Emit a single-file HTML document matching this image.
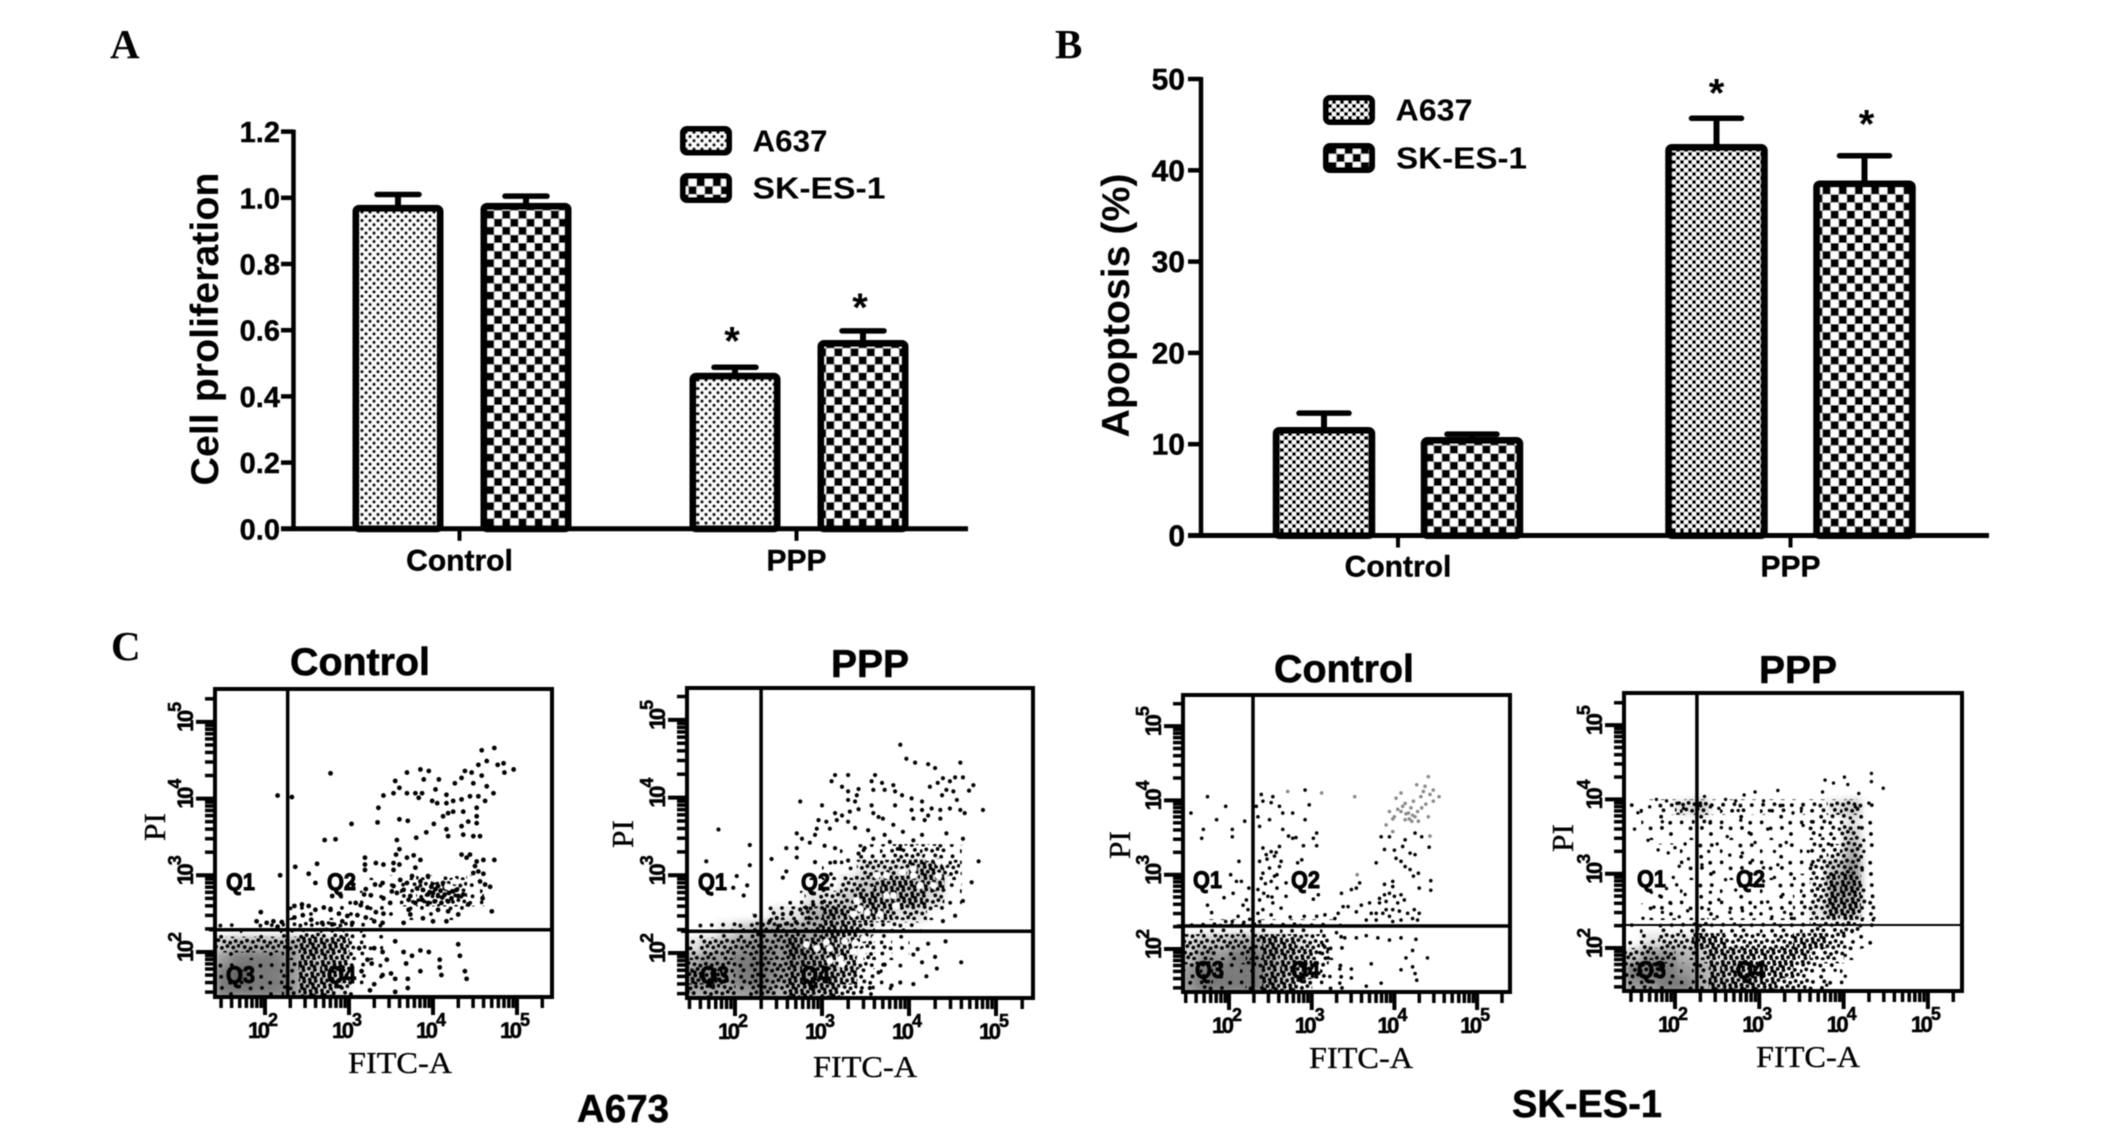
<!DOCTYPE html>
<html lang="en">
<head>
<meta charset="utf-8">
<title>Cell proliferation and apoptosis figure</title>
<style>
html,body{margin:0;padding:0;background:#fff;width:2126px;height:1141px;overflow:hidden}
svg{display:block}
text{font-family:"Liberation Sans",Arial,sans-serif;fill:#000}
.serif{font-family:"Liberation Serif","Times New Roman",serif;stroke:#000;stroke-width:.35px}
.panel{font-family:"Liberation Serif","Times New Roman",serif;font-weight:bold;font-size:41px}
.flowtitle{font-weight:bold;font-size:39px;stroke:#000;stroke-width:.6px}
.legend{font-size:31px;font-weight:bold}
.group{font-weight:bold;font-size:39px;stroke:#000;stroke-width:.5px}
</style>
</head>
<body>
<svg id="figure" xmlns="http://www.w3.org/2000/svg" width="2126" height="1141" viewBox="0 0 2126 1141">
<defs id="defs">
<filter id="soft" x="-2%" y="-2%" width="104%" height="104%"><feGaussianBlur stdDeviation="0.55"/></filter>
<filter id="heatblur" x="-10%" y="-10%" width="120%" height="120%"><feGaussianBlur stdDeviation="4"/></filter>
<pattern id="dots" patternUnits="userSpaceOnUse" width="8" height="8.4">
<rect width="8" height="8.4" fill="#fff"/>
<circle cx="2" cy="2.1" r="1.75" fill="#000"/>
<circle cx="6" cy="6.3" r="1.75" fill="#000"/>
</pattern>
<pattern id="checkLarge" patternUnits="userSpaceOnUse" width="16.2" height="16.2">
<rect width="16.2" height="16.2" fill="#fff"/>
<rect width="8.1" height="8.1" fill="#000"/>
<rect x="8.1" y="8.1" width="8.1" height="8.1" fill="#000"/>
</pattern>
<pattern id="checkFine" patternUnits="userSpaceOnUse" width="8" height="8">
<rect width="8" height="8" fill="#fff"/>
<rect width="4" height="4" fill="#000"/>
<rect x="4" y="4" width="4" height="4" fill="#000"/>
</pattern>
</defs>
<rect width="2126" height="1141" fill="#fff"/>
<g id="root" filter="url(#soft)">
<text class="panel" x="110" y="58">A</text>
<text class="panel" x="1055" y="58">B</text>
<text class="panel" x="111" y="660">C</text>

<g id="chartA">
<text x="0" y="0" transform="translate(218,485.500) rotate(-90)" font-size="39" font-weight="bold" textLength="313" lengthAdjust="spacingAndGlyphs">Cell proliferation</text>
<g>
<rect x="683" y="129" width="46" height="23.500" rx="4" fill="url(#dots)" stroke="#000" stroke-width="6"/>
<text class="legend" x="752.500" y="151.500" textLength="75" lengthAdjust="spacingAndGlyphs">A637</text>
<rect x="683" y="176" width="46" height="24" rx="4" fill="url(#checkLarge)" stroke="#000" stroke-width="6"/>
<text class="legend" x="752.500" y="198.500" textLength="133" lengthAdjust="spacingAndGlyphs">SK-ES-1</text>
</g>
</g>

<g id="chartB">
<text x="0" y="0" transform="translate(1129,437.500) rotate(-90)" font-size="39" font-weight="bold" textLength="264" lengthAdjust="spacingAndGlyphs">Apoptosis (%)</text>
<g>
<rect x="1326" y="98" width="46" height="24" rx="4" fill="url(#checkFine)" stroke="#000" stroke-width="6"/>
<text class="legend" x="1395.500" y="120.500" textLength="77" lengthAdjust="spacingAndGlyphs">A637</text>
<rect x="1326" y="146" width="46" height="24" rx="4" fill="url(#checkLarge)" stroke="#000" stroke-width="6"/>
<text class="legend" x="1396" y="168.500" textLength="131" lengthAdjust="spacingAndGlyphs">SK-ES-1</text>
</g>
</g>

<text class="flowtitle" x="290" y="675" textLength="140" lengthAdjust="spacingAndGlyphs">Control</text>
<text class="flowtitle" x="831" y="677" textLength="78" lengthAdjust="spacingAndGlyphs">PPP</text>
<text class="flowtitle" x="1274" y="682" textLength="140" lengthAdjust="spacingAndGlyphs">Control</text>
<text class="flowtitle" x="1759" y="683" textLength="78" lengthAdjust="spacingAndGlyphs">PPP</text>

<g id="flow1"></g>
<g id="flow2"></g>
<g id="flow3"></g>
<g id="flow4"></g>

<text class="group" x="577" y="1122" textLength="92" lengthAdjust="spacingAndGlyphs">A673</text>
<text class="group" x="1512" y="1117" textLength="150" lengthAdjust="spacingAndGlyphs">SK-ES-1</text>
</g>
</svg>

<script>
/* ---------- bar chart data ---------- */
const barCategories = ['Control', 'PPP'];
const prolifTicks = [0, 0.2, 0.4, 0.6, 0.8, 1.0, 1.2];
const prolifTickLabels = ['0.0', '0.2', '0.4', '0.6', '0.8', '1.0', '1.2'];
const prolifA637 = [0.968, 0.461];
const prolifA637Err = [0.042, 0.027];
const prolifA637Sig = [false, true];
const prolifSK = [0.974, 0.56];
const prolifSKErr = [0.031, 0.038];
const prolifSKSig = [false, true];
const apopTicks = [0, 10, 20, 30, 40, 50];
const apopTickLabels = ['0', '10', '20', '30', '40', '50'];
const apopA637 = [11.5, 42.5];
const apopA637Err = [1.9, 3.2];
const apopA637Sig = [false, true];
const apopSK = [10.4, 38.5];
const apopSKErr = [0.7, 3.1];
const apopSKSig = [false, true];

/* ---------- flow cytometry axis data ---------- */
const flowDecades = [2, 3, 4, 5];
const flowMinorDecades = [1, 2, 3, 4, 5];
const flowMinorMultipliers = [2, 3, 4, 5, 6, 7, 8, 9];
const quadrantLabels = ['Q1', 'Q2', 'Q3', 'Q4'];

/* events are [log10 FITC-A, log10 PI]; density grids start at 1.4 decades, 0.2 decades per cell, rows listed from the lowest PI upward */
const a673ControlGate = [2.27, 2.29];
const a673ControlGray = [
 [5,5,5,5,4,2,1,1,0,0],
 [5,6,5,5,4,2,2,1,0,0],
 [4,5,5,5,4,2,2,1,0,0],
 [2,3,3,3,3,2,2,1,0,0],
 [0,0,0,0,0,0,0,0,0,0]
];
const a673ControlSpeck = [
 [2,2,2,2,4,8,7,5,2,0],
 [2,2,2,2,4,9,9,8,3,1],
 [2,2,2,2,4,9,9,8,4,1],
 [6,6,6,6,6,8,9,7,4,1],
 [1,2,2,2,3,5,6,5,3,1],
 [0,0,0,0,1,2,2,2,2,2,2,2,2,2,1],
 [0,0,0,0,0,0,0,1,1,1,2,3,5,5,5,3],
 [0,0,0,0,0,0,0,0,0,1,1,3,5,6,6,1]
];
const a673ControlEvents = [
[4.58,4.63],[4.73,4.66],[4.96,4.38],[4.84,4.46],[4.85,4.34],[4.77,4.44],[4.64,4.49],[4.54,4.44],[4.58,4.30],[4.46,4.34],[4.38,4.36],[4.34,4.27],[4.26,4.20],[4.48,4.20],[4.64,4.16],[4.72,4.07],[4.54,4.03],[4.62,3.97],[4.44,4.03],[4.34,3.99],[4.24,3.97],[4.16,4.05],[4.16,3.94],[4.52,3.88],[4.24,3.83],[4.36,3.83],[4.18,3.81],[4.12,3.77],[4.52,3.77],[4.42,3.70],[4.52,3.68],[4.34,3.64],[4.16,3.60],[4.36,3.53],[4.48,3.51],[4.56,3.51],[4.18,3.51],[4.01,3.67],[3.92,3.56],[3.80,3.49],[4.07,4.25],[3.95,4.36],[3.85,4.38],[3.69,4.34],[3.89,4.25],[3.55,4.23],[3.60,4.14],[3.53,4.07],[3.41,4.04],[3.69,4.07],[3.79,4.07],[3.87,4.07],[3.83,4.01],[4.03,4.12],[3.99,3.97],[4.05,3.94],[3.35,3.88],[3.34,3.69],[3.60,3.73],[3.70,3.71],[3.03,3.67],[2.78,4.33],[2.71,3.46],[2.84,3.47],[3.57,3.46],[3.60,3.34],[3.56,3.27],[3.69,3.23],[3.77,3.26],[3.19,3.23],[3.19,3.14],[3.19,3.07],[3.32,3.16],[3.41,3.14],[3.53,3.16],[3.53,3.07],[3.60,3.14],[3.79,3.10],[3.85,3.20],[4.34,3.27],[4.40,3.23],[4.44,3.27],[4.52,3.18],[4.60,3.20],[4.73,3.20],[4.50,3.12],[4.54,3.05],[4.60,3.02],[4.48,3.03],[4.56,2.92],[4.62,2.88],[4.68,2.85],[4.59,2.70],[4.70,2.53],
[3.53,2.86],[3.61,2.94],[3.69,2.90],[3.75,2.99],[3.85,2.92],[3.94,2.99],[4.00,2.90],[4.06,2.86],[4.12,2.90],[4.24,2.79],[4.28,2.81],[4.36,2.75],[3.51,2.79],[3.57,2.77],[3.65,2.81],[3.73,2.73],[3.81,2.83],[3.88,2.81],[3.94,2.75],[4.00,2.77],[4.06,2.73],[4.14,2.75],[4.22,2.70],[4.30,2.73],[3.41,2.70],[3.49,2.64],[3.71,2.68],[3.79,2.64],[3.87,2.68],[3.94,2.64],[4.02,2.66],[4.10,2.64],[4.18,2.66],[4.42,2.62],[4.06,2.55],[4.18,2.53],[4.30,2.49],[4.00,2.40],[4.16,2.40],[3.88,2.44],[3.73,2.49],[3.71,2.55],[3.65,2.38],[3.98,2.85],[4.03,2.82],[4.09,2.80],[4.14,2.83],[4.19,2.77],[3.96,2.78],[4.11,2.71],
[3.05,2.88],[3.20,2.82],[3.31,2.88],[3.40,2.90],[3.18,2.75],[3.26,2.74],[3.08,2.64],[3.14,2.61],[3.22,2.58],[3.32,2.52],[3.41,2.50],[2.80,2.73],[2.90,2.74],[2.70,2.58],[2.78,2.55],[2.88,2.50],[2.98,2.47],[3.10,2.48],[3.20,2.45],[3.30,2.40],[3.40,2.38],[2.35,2.60],[2.44,2.62],[2.52,2.60],[2.60,2.55],[2.35,2.45],[2.45,2.48],[2.55,2.42],[2.68,2.38],[2.80,2.36],[2.92,2.40],[3.04,2.38],[2.52,3.02],[2.36,3.11],[2.62,3.15],[2.60,2.90],[1.95,2.52],[1.90,2.40],[2.02,2.38],[2.10,2.40],[2.20,2.39],[2.15,2.33],[2.18,3.00],[2.15,4.04],[2.32,4.02],
[3.55,2.14],[3.65,2.00],[3.68,1.85],[3.75,1.95],[3.85,2.02],[3.95,2.00],[3.70,1.65],[3.85,1.75],[4.08,1.90],[4.08,1.80],[4.10,1.70],[4.30,2.10],[4.32,1.95],[4.38,1.75],[4.40,1.65],[3.30,2.05],[3.40,2.00],[3.45,1.90],[3.27,1.85],[3.40,1.70],[3.50,1.72],[3.55,1.65],[3.70,1.53],[3.25,1.50],[3.30,1.58],[3.55,1.48],[3.15,1.75],[3.22,1.90],[3.12,2.05]
];
const a673ControlWhite = [[4.17,2.85],[4.02,2.95],[4.26,2.92]];

const a673PppGate = [2.30, 2.28];
const a673PppGray = [
 [3,3,3,4,4,3,2,2,1,0,0,0,0,0,0,0,0],
 [4,4,4,5,5,4,3,3,2,1,0,0,0,0,0,0,0],
 [3,4,4,5,5,4,4,3,2,1,0,0,0,0,0,0,0],
 [1,2,3,4,4,4,4,3,2,1,0,0,0,0,0,0,0],
 [0,0,1,2,3,3,3,3,2,1,1,0,0,0,0,0,0],
 [0,0,0,0,0,1,1,3,3,2,1,1,1,1,0,0,0],
 [0,0,0,0,0,0,0,1,1,2,2,2,2,2,1,0,0],
 [0,0,0,0,0,0,0,0,0,1,2,2,2,2,2,0,0],
 [0,0,0,0,0,0,0,0,0,0,1,1,1,2,1,0,0],
 [0,0,0,0,0,0,0,0,0,0,0,0,0,0,0,0,0]
];
const a673PppSpeck = [
 [6,6,5,3,5,6,7,8,7,5,3,1,0,0,0,0,0],
 [7,7,6,3,5,6,7,9,8,7,4,2,0,0,0,0,0],
 [6,6,6,4,5,6,7,8,8,7,5,3,1,0,0,0,0],
 [3,5,6,5,6,6,7,7,8,7,5,4,2,0,0,0,0],
 [1,2,3,4,5,6,6,6,7,7,6,4,3,1,0,0,0],
 [0,0,0,0,1,3,4,6,7,7,7,7,6,5,2,0,0],
 [0,0,0,0,0,0,2,3,5,6,7,7,7,7,6,2,0],
 [0,0,0,0,0,0,0,2,3,5,6,7,7,7,7,4,0],
 [0,0,0,0,0,0,0,0,1,2,5,6,6,7,7,5,0],
 [0,0,0,0,0,0,0,0,0,1,3,4,5,5,6,3,0]
];
const a673PppEvents = [
[3.90,4.68],[3.97,4.50],[4.07,4.45],[4.22,4.43],[4.30,4.38],[4.59,4.45],[4.62,4.26],[4.53,4.26],[4.39,4.25],[4.33,4.19],[4.47,4.21],[4.74,4.16],[4.69,4.09],[4.43,4.10],[4.51,4.08],[4.55,3.97],[4.38,4.03],[4.24,4.14],[4.85,3.84],[4.64,3.80],[4.59,3.84],[4.47,3.86],[4.36,3.84],[4.26,3.86],[4.15,3.95],[4.15,3.84],[4.22,3.77],[4.03,3.84],[4.05,3.73],[4.18,3.71],[4.36,3.73],[4.43,3.54],[4.62,3.47],[4.80,3.18],[4.72,2.91],[4.62,2.67],[4.53,2.48],[4.39,2.41],
[3.15,4.29],[3.30,4.29],[3.11,4.21],[3.23,4.14],[3.30,4.08],[3.42,4.11],[3.61,4.29],[3.57,4.21],[3.69,4.19],[3.59,4.10],[3.72,4.10],[3.82,4.16],[3.84,4.08],[3.92,4.03],[4.03,3.99],[2.75,3.95],[3.00,3.90],[3.40,4.03],[3.38,3.95],[3.30,3.97],[3.42,3.85],[3.32,3.82],[3.23,3.77],[3.15,3.80],[3.57,3.90],[3.84,3.90],[3.59,3.80],[3.70,3.73],[3.65,3.75],[2.96,3.71],[3.05,3.69],[3.17,3.71],[3.30,3.69],[3.38,3.61],[3.53,3.58],[3.82,3.65],[3.93,3.56],[2.94,3.60],[3.09,3.60],[2.71,3.54],[2.77,3.47],[2.86,3.42],[2.92,3.52],[2.59,3.35],[2.71,3.35],[3.03,3.38],[3.15,3.35],[3.49,3.35],[3.59,3.47],[3.72,3.52],[3.78,3.43],[3.90,3.34],[4.05,3.45],[4.15,3.52],[2.42,3.21],[2.71,3.23],[2.92,3.17],[3.15,3.17],[3.42,3.28],[3.30,3.19],[2.59,3.05],[2.55,2.97],
[1.81,3.59],[2.17,3.39],[2.17,3.13],[1.67,3.18],[2.02,2.99],[1.98,2.84],[2.14,2.87],[2.10,2.74],[1.73,2.76],[2.23,2.48],
[2.40,2.41],[2.48,2.45],[2.55,2.50],[2.65,2.52],[2.75,2.56],[2.82,2.58],[2.90,2.62],[3.00,2.65],[2.50,2.35],[2.60,2.38],[2.70,2.40],[2.85,2.45],
[4.42,2.15],[4.22,2.12],[4.10,2.05],[4.05,1.98],[4.15,1.88],[4.30,1.95],[4.32,1.80],[4.60,1.88],[4.20,1.70],[4.05,1.60],[3.90,1.62],[3.80,1.58],[3.55,1.55],[3.45,1.50],[3.65,1.75],[3.72,1.85],[3.60,1.42],[4.00,1.42],[4.20,1.42],[4.40,1.42],[4.55,1.42],[3.80,1.42]
];
const a673PppWhite = [
[2.82,2.11],[2.94,2.06],[3.05,2.14],[3.09,2.06],[3.26,2.15],[3.09,1.90],[3.21,1.92],[3.23,1.86],[3.38,2.13],[3.36,2.02],[3.48,2.02],[3.44,1.93],[3.61,2.19],[3.48,2.19],[3.52,2.52],[3.44,2.57],[3.36,2.50],[3.40,2.67],[3.74,2.74],[3.82,2.74],[3.85,2.61],[3.67,2.50],[3.63,3.00],[3.74,3.00],[3.93,3.04],[4.05,3.00],[4.13,2.87],[4.34,3.17],[4.41,3.17],[4.22,3.23],[4.28,2.87],[4.34,2.99],[4.05,3.08]
];

const skControlGate = [2.29, 2.31];
const skControlGray = [
 [4,5,5,5,5,3,1,0,0,0],
 [4,5,5,5,5,3,2,1,0,0],
 [2,4,4,5,5,3,2,1,0,0],
 [1,2,2,3,3,2,1,1,0,0],
 [0,0,0,0,0,0,0,0,0,0]
];
const skControlSpeck = [
 [2,3,2,1,3,7,7,5,2,1],
 [3,3,2,1,4,8,8,7,4,1],
 [5,6,4,3,5,7,8,7,5,2],
 [5,6,6,6,6,7,7,6,5,1],
 [2,3,3,3,3,4,4,3,3,1]
];
const skControlEvents = [
[2.39,4.08],[2.53,4.05],[2.41,3.99],[2.33,3.92],[2.51,3.97],[2.61,3.92],[2.77,3.83],[2.92,4.14],[2.97,3.94],[2.65,3.83],[2.35,3.78],[2.49,3.74],[2.37,3.65],[2.92,3.74],[2.65,3.61],[2.77,3.49],[2.90,3.39],[3.06,3.56],[3.02,3.49],[3.06,3.39],[2.41,3.36],[2.51,3.31],[2.61,3.38],[2.45,3.27],[2.55,3.25],[2.63,3.18],[2.37,3.18],[2.88,3.20],[2.83,3.16],[2.49,3.09],[2.61,3.11],[2.41,3.02],[2.55,2.98],[2.51,2.91],[2.69,2.89],[2.35,2.80],[2.47,2.71],[2.69,2.71],[2.37,2.66],[2.53,2.62],[2.63,2.55],[2.41,2.53],[2.35,2.48],[2.51,2.46],[2.37,2.37],[2.44,2.88],[2.58,3.00],[2.52,2.70],[2.42,2.75],[2.46,3.21],[2.57,3.30],[2.39,2.95],[2.58,2.82],[2.72,3.52],[2.81,3.50],
[1.74,4.05],[1.96,3.92],[1.54,3.83],[1.85,3.74],[2.19,3.72],[1.69,3.61],[2.04,3.61],[1.67,3.49],[2.04,3.51],[2.12,3.18],[2.02,3.00],[2.09,2.91],[2.15,2.91],[1.94,2.69],[2.05,2.75],[1.74,2.59],[1.79,2.49],[2.21,2.66],[2.17,2.59],[2.23,2.53],[2.11,2.44],[1.96,2.37],[2.04,2.37],[2.24,2.82],[2.25,2.40],[2.18,2.36],
[3.84,3.51],[3.94,3.51],[3.88,3.34],[4.00,3.33],[4.10,3.38],[4.19,3.29],[4.25,3.27],[4.42,3.37],[4.02,3.22],[4.08,3.18],[4.13,3.11],[4.19,3.07],[4.29,3.02],[3.78,3.16],[4.44,2.92],[4.23,2.98],[4.44,2.79],[4.30,2.82],[3.98,2.91],[3.88,2.87],[3.98,2.84],[3.94,2.75],[3.88,2.73],[3.82,2.68],[3.90,2.64],[4.00,2.71],[4.08,2.73],[4.12,2.66],[4.04,2.62],[3.98,2.53],[3.90,2.53],[3.82,2.62],[3.78,2.48],[3.86,2.48],[3.94,2.44],[4.06,2.51],[4.16,2.48],[4.24,2.53],[4.30,2.48],[4.28,2.39],[4.22,2.41],[3.70,2.62],[3.72,2.48],[3.78,2.39],[3.66,2.39],[3.98,2.37],[4.08,2.39],[4.25,3.56],[4.33,3.51],[4.13,3.47],
[3.58,2.89],[3.48,2.80],[3.36,2.75],[3.54,2.82],[3.60,2.59],[3.54,2.50],[3.44,2.57],[3.38,2.57],[3.32,2.48],[3.28,2.41],[3.16,2.46],[3.06,2.44],[2.91,2.44],[2.74,2.43],[3.08,2.73],[3.02,2.67],
[3.30,2.22],[3.40,2.15],[3.54,2.15],[3.66,2.18],[3.80,2.15],[3.94,2.12],[4.08,2.15],[4.26,2.13],[4.22,1.98],[4.14,1.88],[4.40,1.88],[4.08,1.72],[4.22,1.76],[4.25,1.67],[4.27,1.58],[3.72,1.80],[3.48,1.73],[3.48,1.61],[3.34,1.54],[3.66,1.50],[3.84,1.54],[3.34,1.73],[3.22,1.63],[3.20,1.88],[3.10,1.95],[3.14,2.05],[3.20,2.00]
];
const skControlFaded = [
[4.41,4.32],[4.27,4.21],[4.37,4.19],[4.47,4.14],[4.54,4.05],[4.43,4.08],[4.47,3.99],[4.08,4.10],[4.02,4.03],[4.13,3.96],[4.23,3.99],[4.33,3.90],[4.41,3.78],[3.94,3.85],[4.00,3.78],[4.08,3.85],[4.17,3.83],[4.25,3.78],[4.13,3.74],[4.21,3.72],[4.29,3.72],[3.90,3.67],[3.98,3.58],[4.43,3.52],[4.32,4.05],[4.38,3.95],[4.20,3.90],[4.10,3.92],[4.28,3.85],[4.35,4.12],[4.04,3.88],[4.22,3.80],[4.14,3.82],[4.18,3.75],[3.98,3.75],[3.52,4.05],[3.12,4.10],[2.71,4.12],[3.55,3.00]
];
const skControlWhite = [];

const skPppGate = [2.26, 2.31];
const skPppGray = [
 [4,4,5,5,3,2,1,1,0,0,0,0,0,0,0,0,0],
 [5,5,5,4,3,2,1,1,0,0,0,0,0,0,0,0,0],
 [2,4,4,3,2,1,1,0,0,0,0,0,0,0,0,0,0],
 [0,1,1,1,1,0,0,0,0,0,0,0,0,0,0,0,0],
 [0,0,0,0,0,0,0,0,0,0,0,0,0,0,0,0,0],
 [0,0,0,0,0,0,0,0,0,0,0,1,2,2,0,0,0],
 [0,0,0,0,0,0,0,0,0,0,0,0,3,3,0,0,0],
 [0,0,0,0,0,0,0,0,0,0,0,0,3,4,0,0,0],
 [0,0,0,0,0,0,0,0,0,0,0,0,2,4,0,0,0],
 [0,0,0,0,0,0,0,0,0,0,0,0,0,3,0,0,0],
 [0,0,0,0,0,0,0,0,0,0,0,0,0,2,0,0,0],
 [0,0,0,0,0,0,0,0,0,0,0,0,0,1,0,0,0],
 [0,0,0,1,2,0,0,0,0,0,0,0,1,2,0,0,0]
];
const skPppSpeck = [
 [4,4,2,2,4,7,7,8,8,6,5,3,1,0,0,0,0],
 [5,5,3,2,4,8,8,9,8,7,6,4,2,0,0,0,0],
 [6,6,5,4,6,8,8,8,8,7,7,6,5,2,0,0,0],
 [2,4,5,6,7,7,6,6,6,6,7,7,6,4,1,0,0],
 [1,2,3,4,5,3,3,3,3,3,3,5,6,5,2,0,0],
 [0,1,2,2,2,2,2,2,2,2,3,6,7,7,3,0,0],
 [0,0,2,2,2,2,2,2,2,2,3,6,7,7,3,0,0],
 [0,0,0,1,2,1,1,2,2,2,3,5,7,7,2,0,0],
 [0,0,0,1,1,1,1,1,1,1,2,5,6,6,2,0,0],
 [0,0,0,1,1,1,1,1,1,1,2,4,5,6,2,0,0],
 [0,1,1,2,2,1,1,1,2,1,2,3,4,5,2,0,0],
 [0,1,2,2,3,2,2,2,2,2,2,3,4,4,1,0,0],
 [1,2,4,5,6,3,3,3,3,3,3,4,6,6,2,0,0]
];
const skPppEvents = [
[1.56,3.82],[1.60,3.85],[1.70,3.90],[1.78,4.00],[1.90,3.98],[2.05,3.95],[2.10,3.88],[1.85,3.70],[1.52,3.60],[1.68,3.45],[1.80,3.32],[1.92,3.28],[2.00,3.35],[2.12,3.40],[2.16,3.20],[2.05,3.10],[1.98,2.95],[1.65,2.82],[1.72,2.75],[1.82,2.70],[1.90,2.80],[2.02,2.85],[2.12,2.72],[1.75,2.55],[1.85,2.48],[1.95,2.60],[2.15,2.50],[2.05,2.42],[1.62,2.40],
[2.30,3.95],[2.35,4.04],[2.42,3.90],[2.52,3.88],[2.60,4.00],[2.72,3.98],[2.75,3.85],[2.82,4.06],[2.95,4.10],[3.05,3.98],[3.12,3.85],[3.22,4.12],[3.28,3.92],[3.40,3.82],[3.50,3.88],[2.42,3.70],[2.55,3.62],[2.62,3.50],[2.78,3.72],[2.88,3.55],[2.95,3.42],[3.10,3.60],[3.18,3.30],[3.32,3.42],[2.40,3.30],[2.50,3.40],[2.65,3.25],[2.80,3.28],[2.92,3.18],[3.05,3.08],[3.22,3.12],[2.32,3.12],[2.46,3.02],[2.60,2.92],[2.42,2.75],[2.52,2.65],[2.72,2.78],[2.90,2.85],[3.05,2.90],[3.18,2.95],[3.28,2.72],[3.10,2.62],[2.95,2.55],[2.80,2.50],[2.65,2.48],[2.50,2.42],[2.40,2.52],[3.02,2.46],[3.15,2.42],[3.30,2.48],[3.38,2.40],
[3.52,3.65],[3.62,3.70],[3.72,3.52],[3.82,3.40],[3.95,3.60],[4.08,3.75],[4.18,3.62],[4.24,3.30],[4.22,3.05],[4.14,3.90],[4.30,3.95],[4.24,3.45],[4.05,4.20],[4.01,4.30],[4.33,4.35],[4.33,4.24],[4.47,4.15],[3.88,4.22],[3.78,4.26],[3.75,4.10],[4.18,4.08],[3.58,3.30],[3.62,3.12],[4.22,2.38],[4.35,2.38],[4.10,2.22],[4.00,2.20],[4.02,1.90],[4.02,1.62],[3.90,1.70],[3.80,1.50]
];
const skPppWhite = [];

/* ---------- helpers ---------- */
const NS = 'http://www.w3.org/2000/svg';
function mk(tag, attrs, parent) {
  const n = document.createElementNS(NS, tag);
  for (const k in attrs) n.setAttribute(k, attrs[k]);
  parent.appendChild(n);
  return n;
}

/* stipple textures used to shade dense event regions: four nested dot densities */
const stippleDotCounts = [10, 24, 45, 82];
const stippleTile = 40;
stippleDotCounts.forEach((count, level) => {
  const pat = mk('pattern', {id: 'stipple' + level, patternUnits: 'userSpaceOnUse', width: stippleTile, height: stippleTile}, document.getElementById('defs'));
  for (let i = 1; i <= count; i++) {
    mk('circle', {cx: (i * 0.7548776662 % 1) * stippleTile, cy: (i * 0.569840291 % 1) * stippleTile, r: 1.9, fill: '#000'}, pat);
  }
});
function stippleLevel(v) {
  return v <= 2 ? 0 : v <= 4 ? 1 : v <= 6 ? 2 : 3;
}

/* ---------- bar charts ---------- */
function drawBars(rootId, c) {
  const root = document.getElementById(rootId);
  const y = v => c.y0 - c.yPerUnit * v;
  const xCat = i => c.cat0 + c.catStep * i;

  const yAxis = mk('line', {x1: c.axisX, x2: c.axisX, y1: y(c.ticks[c.ticks.length - 1]) - 2, y2: c.y0 + 2, stroke: '#000', 'stroke-width': 4.5}, root);
  
  

  c.ticks.forEach((t, i) => {
    const tick = mk('line', {x1: c.tickX, x2: c.axisX, y1: y(t), y2: y(t), stroke: '#000', 'stroke-width': 4.5}, root);
    
    
    const label = mk('text', {x: c.tickX - c.labelGap, y: y(t) + 10.5, 'text-anchor': 'end', 'font-size': c.tickFont, 'font-weight': 'bold', stroke: '#000', 'stroke-width': 0.4}, root);
    label.textContent = c.tickLabels[i];
    
    
  });

  c.categories.forEach((name, i) => {
    c.series.forEach((s, j) => {
      const cx = xCat(i) + c.offsets[j];
      const top = y(s.values[i]);
      const capY = y(s.values[i] + s.errors[i]);
      const stem = mk('line', {x1: cx, x2: cx, y1: capY, y2: top, stroke: '#000', 'stroke-width': 6}, root);
      
      
      const cap = mk('line', {x1: cx - c.capHalf, x2: cx + c.capHalf, y1: capY, y2: capY, stroke: '#000', 'stroke-width': 5.5, 'stroke-linecap': 'round'}, root);
      
      
      const bar = mk('rect', {x: cx - c.barWidth / 2, y: top, width: c.barWidth, height: c.y0 - top, fill: s.fill, stroke: '#000', 'stroke-width': 7, rx: 3}, root);
      
      
      if (s.sig[i]) {
        const star = mk('text', {x: cx + c.starDx[j], y: capY - c.starLift[j], 'text-anchor': 'middle', 'font-size': 40, 'font-weight': 'bold'}, root);
        star.textContent = '*';
        
        
      }
    });
    const xt = mk('line', {x1: xCat(i), x2: xCat(i), y1: c.y0, y2: c.y0 + 12, stroke: '#000', 'stroke-width': 4}, root);
    
    
    const xl = mk('text', {x: xCat(i), y: c.y0 + c.catLabelDy, 'text-anchor': 'middle', 'font-size': 30, 'font-weight': 'bold', stroke: '#000', 'stroke-width': 0.4}, root);
    xl.textContent = name;
    
    
  });

  const xAxis = mk('line', {x1: c.xAxisStart, x2: c.xAxisEnd, y1: c.y0, y2: c.y0, stroke: '#000', 'stroke-width': 5}, root);
  
  
}

drawBars('chartA', {
  y0: 528.8, yPerUnit: 331, axisX: 293.5, tickX: 281, tickFont: 29, labelGap: 1, cat0: 459.5, catStep: 337,
  xAxisStart: 281, xAxisEnd: 968, offsets: [-61.5, 66.5], barWidth: 84, capHalf: 21, catLabelDy: 41.5,
  starDx: [-3, -3], starLift: [13, 10],
  categories: barCategories, ticks: prolifTicks, tickLabels: prolifTickLabels,
  series: [
    {name: 'a637', values: prolifA637, errors: prolifA637Err, sig: prolifA637Sig, fill: 'url(#dots)'},
    {name: 'sk-es-1', values: prolifSK, errors: prolifSKErr, sig: prolifSKSig, fill: 'url(#checkLarge)'}
  ]
});
drawBars('chartB', {
  y0: 535.5, yPerUnit: 9.13, axisX: 1201, tickX: 1188, tickFont: 30, labelGap: 3, cat0: 1398, catStep: 392.5,
  xAxisStart: 1188, xAxisEnd: 1989, offsets: [-74, 74], barWidth: 95.5, capHalf: 25, catLabelDy: 41,
  starDx: [0, 2], starLift: [12, 18],
  categories: barCategories, ticks: apopTicks, tickLabels: apopTickLabels,
  series: [
    {name: 'a637', values: apopA637, errors: apopA637Err, sig: apopA637Sig, fill: 'url(#checkFine)'},
    {name: 'sk-es-1', values: apopSK, errors: apopSKErr, sig: apopSKSig, fill: 'url(#checkLarge)'}
  ]
});

/* ---------- flow plots ---------- */
function drawFlow(id, c) {
  const root = document.getElementById(id);
  const xs = d => c.x102 + c.xDec * (d - 2);
  const ys = d => c.y102 - c.yDec * (d - 2);

  const clip = mk('clipPath', {id: id + '-clip'}, root);
  mk('rect', {x: c.left, y: c.top, width: c.right - c.left, height: c.bottom - c.top}, clip);

  const plotArea = mk('g', {'clip-path': 'url(#' + id + '-clip)'}, root);
  
  

  const heat = mk('g', {filter: 'url(#heatblur)'}, plotArea);
  
  
  const cellStep = 0.2;
  const gridStart = 1.4;
  c.gray.forEach((row, r) => row.forEach((v, k) => {
    if (!v) return;
    const cell = mk('rect', {x: xs(gridStart + k * cellStep), y: ys(gridStart + (r + 1) * cellStep), width: xs(cellStep) - xs(0) + 0.5, height: ys(0) - ys(cellStep) + 0.5, fill: '#000', 'fill-opacity': v / 9 * 0.9}, heat);
    
    
  }));
  c.speck.forEach((row, r) => row.forEach((v, k) => {
    if (!v) return;
    const cell = mk('rect', {x: xs(gridStart + k * cellStep), y: ys(gridStart + (r + 1) * cellStep), width: xs(cellStep) - xs(0) + 0.5, height: ys(0) - ys(cellStep) + 0.5, fill: 'url(#stipple' + stippleLevel(v) + ')'}, plotArea);
    
    
  }));
  c.events.forEach(e => {
    const dot = mk('circle', {cx: xs(e[0]), cy: ys(e[1]), r: c.dotR, fill: '#000'}, plotArea);
    
    
  });
  (c.faded || []).forEach(e => {
    const dot = mk('circle', {cx: xs(e[0]), cy: ys(e[1]), r: c.dotR, fill: '#8a8a8a'}, plotArea);
    
    
  });
  c.white.forEach(e => {
    const dot = mk('circle', {cx: xs(e[0]), cy: ys(e[1]), r: c.whiteR, fill: '#fff'}, plotArea);
    
    
  });

  const gateV = mk('line', {x1: xs(c.gate[0]), x2: xs(c.gate[0]), y1: c.top, y2: c.bottom, stroke: '#000', 'stroke-width': 3.5}, root);
  
  
  const gateH = mk('line', {x1: c.left - 6, x2: c.right, y1: ys(c.gate[1]), y2: ys(c.gate[1]), stroke: '#000', 'stroke-width': c.gateHWidth}, root);
  
  
  const box = mk('rect', {x: c.left, y: c.top, width: c.right - c.left, height: c.bottom - c.top, fill: 'none', stroke: '#000', 'stroke-width': 4}, root);
  
  

  flowMinorDecades.forEach(d => flowMinorMultipliers.forEach(m => {
    const lg = d + Math.log10(m);
    const px = xs(lg);
    if (px > c.left + 1 && px < c.right - 1) {
      const t = mk('line', {x1: px, x2: px, y1: c.bottom, y2: c.bottom + 11, stroke: '#000', 'stroke-width': 3.5}, root);
      
      
    }
    const py = ys(lg);
    if (py > c.top + 1 && py < c.bottom - 1) {
      const t = mk('line', {x1: c.left - 10, x2: c.left, y1: py, y2: py, stroke: '#000', 'stroke-width': 3.5}, root);
      
      
    }
  }));
  flowDecades.forEach(d => {
    const xt = mk('line', {x1: xs(d), x2: xs(d), y1: c.bottom, y2: c.bottom + 18, stroke: '#000', 'stroke-width': 4}, root);
    
    
    const yt = mk('line', {x1: c.left - 19, x2: c.left, y1: ys(d), y2: ys(d), stroke: '#000', 'stroke-width': 4}, root);
    
    

    const xl = mk('text', {x: xs(d) - 17, y: c.bottom + 41, 'font-size': 22, 'font-weight': 'bold', 'letter-spacing': -2.5, stroke: '#000', 'stroke-width': 0.5}, root);
    xl.textContent = '10';
    
    
    const xe = mk('text', {x: xs(d) + 3, y: c.bottom + 29, 'font-size': 18, 'font-weight': 'bold', stroke: '#000', 'stroke-width': 0.5}, root);
    xe.textContent = String(d);
    
    

    const yl = mk('text', {x: -10, y: 0, transform: 'translate(' + (c.left - 22) + ',' + ys(d) + ') rotate(-90)', 'font-size': 22, 'font-weight': 'bold', 'letter-spacing': -2.5, stroke: '#000', 'stroke-width': 0.5}, root);
    yl.textContent = '10';
    
    
    const ye = mk('text', {x: 10, y: -12, transform: 'translate(' + (c.left - 22) + ',' + ys(d) + ') rotate(-90)', 'font-size': 18, 'font-weight': 'bold', stroke: '#000', 'stroke-width': 0.5}, root);
    ye.textContent = String(d);
    
    
  });

  const xTitle = mk('text', {x: c.xTitle[0], y: c.xTitle[1], 'font-size': 31, class: 'serif', textLength: 104, lengthAdjust: 'spacingAndGlyphs'}, root);
  xTitle.textContent = 'FITC-A';
  
  
  const yTitle = mk('text', {x: 0, y: 0, transform: 'translate(' + c.yTitle[0] + ',' + c.yTitle[1] + ') rotate(-90)', 'font-size': 31, class: 'serif', textLength: 28, lengthAdjust: 'spacingAndGlyphs'}, root);
  yTitle.textContent = 'PI';
  
  

  quadrantLabels.forEach((q, i) => {
    const p = c.quads[i];
    const t = mk('text', {x: p[0], y: p[1], 'font-size': 24, 'font-weight': 'bold', textLength: 29, lengthAdjust: 'spacingAndGlyphs', stroke: '#000', 'stroke-width': 1}, root);
    t.textContent = q;
    
    
  });
}

drawFlow('flow1', {
  left: 215, right: 552, top: 689, bottom: 997, x102: 265, xDec: 84, y102: 952, yDec: 76.7,
  gate: a673ControlGate, gray: a673ControlGray, speck: a673ControlSpeck, events: a673ControlEvents, white: a673ControlWhite,
  dotR: 2.4, whiteR: 3, gateHWidth: 3.5,
  xTitle: [348, 1073], yTitle: [165, 841], quads: [[226, 890], [327, 890], [226, 983], [327, 983]]
});
drawFlow('flow2', {
  left: 687, right: 1033, top: 688, bottom: 998, x102: 735, xDec: 87, y102: 953, yDec: 77.7,
  gate: a673PppGate, gray: a673PppGray, speck: a673PppSpeck, events: a673PppEvents, white: a673PppWhite,
  dotR: 2.1, whiteR: 3.2, gateHWidth: 3.5,
  xTitle: [813, 1077], yTitle: [633, 848], quads: [[698, 890], [801, 890], [700, 983], [801, 983]]
});
drawFlow('flow3', {
  left: 1183, right: 1510, top: 695, bottom: 992, x102: 1229, xDec: 82.7, y102: 949, yDec: 74.3,
  gate: skControlGate, gray: skControlGray, speck: skControlSpeck, events: skControlEvents, faded: skControlFaded, white: skControlWhite,
  dotR: 1.8, whiteR: 3, gateHWidth: 3.5,
  xTitle: [1309, 1068], yTitle: [1130, 859], quads: [[1193, 888], [1291, 888], [1195, 978], [1291, 978]]
});
drawFlow('flow4', {
  left: 1624, right: 1962, top: 693, bottom: 991, x102: 1675, xDec: 84.3, y102: 948, yDec: 74.3,
  gate: skPppGate, gray: skPppGray, speck: skPppSpeck, events: skPppEvents, white: skPppWhite,
  dotR: 1.7, whiteR: 3, gateHWidth: 2,
  xTitle: [1756, 1067], yTitle: [1573, 852], quads: [[1637, 887], [1736, 887], [1637, 978], [1736, 978]]
});
</script>
</body>
</html>
